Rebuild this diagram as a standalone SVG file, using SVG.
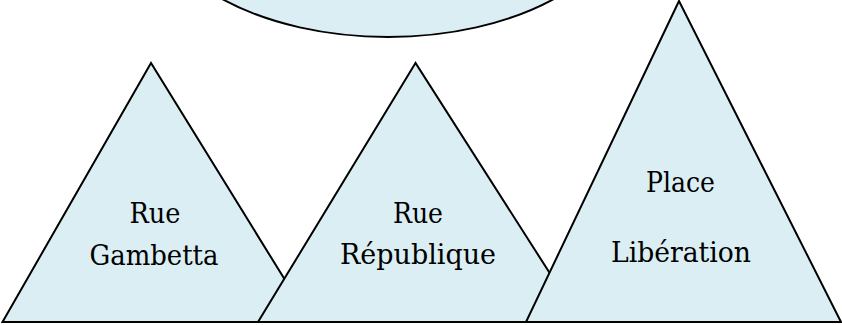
<svg xmlns="http://www.w3.org/2000/svg" width="842" height="325" viewBox="0 0 842 325">
<style>
.shape{fill:#DAEEF3;stroke:#000;stroke-width:2;stroke-linejoin:miter}
.lbl{font-family:"DejaVu Serif","Liberation Serif",serif;font-size:28.5px;fill:#000;text-anchor:middle}
</style>
<rect width="842" height="325" fill="#fff"/>
<g id="top-ellipse">
<ellipse class="shape" cx="388" cy="-100" rx="240" ry="137"/>
</g>
<g id="rue-gambetta">
<polygon class="shape" points="151,63 2.5,322 311,322"/>
<text class="lbl" x="155" y="223" textLength="51" lengthAdjust="spacingAndGlyphs">Rue</text>
<text class="lbl" x="154" y="265" textLength="129" lengthAdjust="spacingAndGlyphs">Gambetta</text>
</g>
<g id="rue-republique">
<polygon class="shape" points="415.5,63 258,322 581,322"/>
<text class="lbl" x="418" y="223" textLength="50" lengthAdjust="spacingAndGlyphs">Rue</text>
<text class="lbl" x="418" y="264" textLength="156" lengthAdjust="spacingAndGlyphs">République</text>
</g>
<g id="place-liberation">
<polygon class="shape" points="679,1 526,322 841,322"/>
<text class="lbl" x="680.5" y="192" textLength="69" lengthAdjust="spacingAndGlyphs">Place</text>
<text class="lbl" x="681" y="262" textLength="140" lengthAdjust="spacingAndGlyphs">Libération</text>
</g>
<g id="connectors"></g>
</svg>
